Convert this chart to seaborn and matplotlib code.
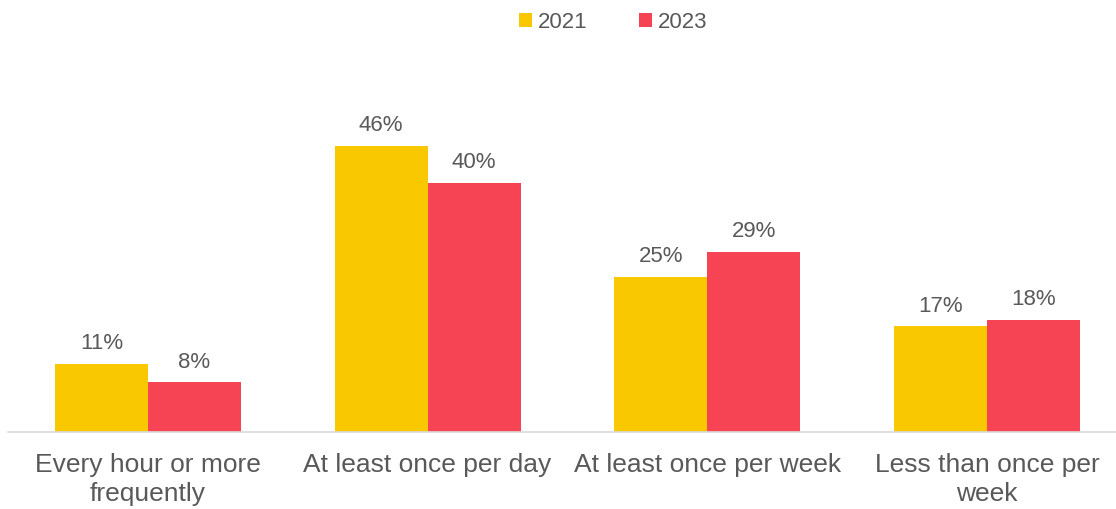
import matplotlib
matplotlib.use("Agg")
import matplotlib.pyplot as plt
import seaborn as sns
import pandas as pd
from matplotlib.patches import Patch

categories = ["Every hour or more\nfrequently", "At least once per day",
              "At least once per week", "Less than once per\nweek"]
years = ["2021", "2023"]
values_2021 = [11, 46, 25, 17]
values_2023 = [8, 40, 29, 18]
colors = {"2021": "#FAC800", "2023": "#F64455"}

df = pd.DataFrame({
    "category": categories * 2,
    "year": ["2021"] * 4 + ["2023"] * 4,
    "value": values_2021 + values_2023,
})

sns.set_theme(style="white")
plt.rcParams['font.family'] = ['Liberation Sans', 'DejaVu Sans']
TXT = "#595959"

W, H = 1116, 509
fig = plt.figure(figsize=(W / 100, H / 100), dpi=100)
ax = fig.add_axes([8 / W, (H - 432) / H, 1108 / W, 382 / H])

sns.barplot(data=df, x="category", y="value", hue="year", palette=colors,
            width=0.665, saturation=1, ax=ax, legend=False, linewidth=0)

ax.set_xlim(-0.5, 3.461)
ax.set_ylim(0, 382 / 6.22)
for c in ax.containers:
    ax.bar_label(c, labels=[f"{v:.0f}%" for v in c.datavalues], padding=7,
                 fontsize=16, color=TXT)

for s in ["top", "right", "left"]:
    ax.spines[s].set_visible(False)
ax.spines["bottom"].set_color("#D9D9D9")
ax.spines["bottom"].set_linewidth(1.2)
ax.set_yticks([])
ax.set_xlabel("")
ax.set_ylabel("")
ax.tick_params(axis="x", length=0, pad=15, labelsize=19, labelcolor=TXT)
for lbl in ax.get_xticklabels():
    lbl.set_linespacing(1.25)

handles = [Patch(facecolor=colors[y], edgecolor="none") for y in years]
fig.legend(handles, years, loc="center", bbox_to_anchor=(613 / W, 1 - 22 / H),
           ncol=2, frameon=False, fontsize=16, labelcolor=TXT,
           handlelength=0.6, handleheight=0.6, handletextpad=0.25,
           columnspacing=2.3)

fig.savefig("out.png", dpi=100)
